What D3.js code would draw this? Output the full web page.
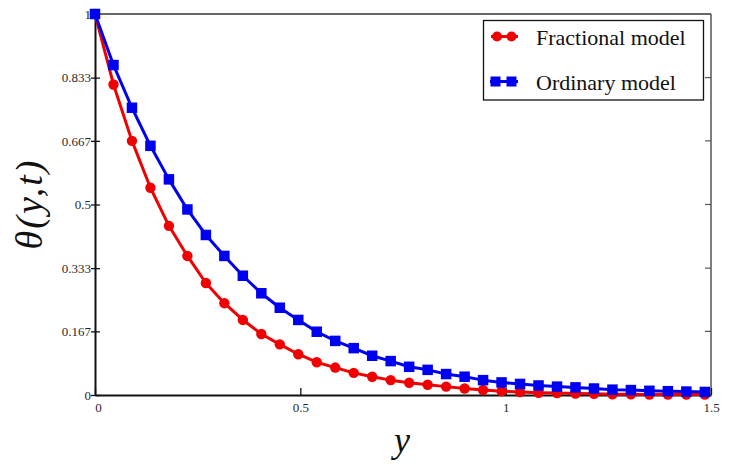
<!DOCTYPE html>
<html>
<head>
<meta charset="utf-8">
<script src="https://cdn.jsdelivr.net/npm/d3@7"></script>
<style>
  html, body { margin: 0; padding: 0; background: #fff; }
  svg { display: block; }
</style>
</head>
<body>
<svg id="chart" width="729" height="470"></svg>
<script>
// ---- data ----
const xStep = 0.045;
const fractional = [1, 0.815, 0.667, 0.544, 0.444, 0.365, 0.294, 0.241, 0.197, 0.160,
  0.133, 0.107, 0.086, 0.072, 0.058, 0.048, 0.039, 0.032, 0.027, 0.022,
  0.017, 0.013, 0.010, 0.008, 0.006, 0.005, 0.004, 0.003, 0.002, 0.002,
  0.001, 0.001, 0.001, 0.001];
const ordinary = [1, 0.866, 0.754, 0.654, 0.566, 0.487, 0.420, 0.365, 0.313, 0.267,
  0.229, 0.197, 0.166, 0.142, 0.123, 0.103, 0.089, 0.074, 0.066, 0.055,
  0.048, 0.039, 0.033, 0.029, 0.025, 0.022, 0.020, 0.017, 0.014, 0.013,
  0.011, 0.010, 0.009, 0.008];
const xTicks = [0, 0.5, 1, 1.5];
const xTickLabels = ["0", "0.5", "1", "1.5"];
const yTicks = [0, 0.167, 0.333, 0.5, 0.667, 0.833, 1];
const yTickLabels = ["0", "0.167", "0.333", "0.5", "0.667", "0.833", "1"];
const seriesNames = ["Fractional model", "Ordinary model"];

// ---- layout ----
const svg = d3.select("#chart");
const L = 95, R = 711, T = 14, B = 395;
const x = d3.scaleLinear().domain([0, 1.5]).range([L, R]);
const y = d3.scaleLinear().domain([0, 1]).range([B, T]);
const serif = "'Liberation Serif', 'DejaVu Serif', serif";
const tickColor = "#2a2a2a";

// plot frame (top/right)
svg.append("line").attr("x1", L).attr("x2", R).attr("y1", T).attr("y2", T)
  .attr("stroke", "#333").attr("stroke-width", 1.5);
svg.append("line").attr("x1", R).attr("x2", R).attr("y1", T).attr("y2", B)
  .attr("stroke", "#555").attr("stroke-width", 1.5);

// right inward ticks
svg.append("g").selectAll("line").data(yTicks.slice(1, -1)).join("line")
  .attr("x1", R - 6).attr("x2", R).attr("y1", d => y(d)).attr("y2", d => y(d))
  .attr("stroke", "#555").attr("stroke-width", 1.2);

// left axis
const yAxis = d3.axisLeft(y).tickValues(yTicks)
  .tickFormat((d, i) => yTickLabels[i]).tickSizeInner(-5).tickSizeOuter(0).tickPadding(4);
const gy = svg.append("g").attr("transform", `translate(${L},0)`).call(yAxis);
gy.select(".domain").attr("stroke", "#111").attr("stroke-width", 2);
gy.selectAll(".tick line").attr("x1", -4).attr("x2", 5).attr("stroke", "#111").attr("stroke-width", 1.3);
gy.selectAll(".tick text").attr("x", -4).attr("font-family", serif).attr("font-size", 13)
  .attr("fill", tickColor);

// bottom axis
const xAxis = d3.axisBottom(x).tickValues(xTicks)
  .tickFormat((d, i) => xTickLabels[i]).tickSizeInner(-7).tickSizeOuter(0).tickPadding(10);
const gx = svg.append("g").attr("transform", `translate(0,${B})`).call(xAxis);
gx.select(".domain").attr("stroke", "#111").attr("stroke-width", 2);
gx.selectAll(".tick line").attr("stroke", "#111").attr("stroke-width", 1.3);
gx.selectAll(".tick text").attr("font-family", serif).attr("font-size", 13)
  .attr("fill", tickColor).attr("dy", "0.5em");
gx.selectAll(".tick").filter(d => d === 0).select("text").attr("dx", 3);

// ---- series ----
const line = d3.line().x((d, i) => x(i * xStep)).y(d => y(d));
const red = "#f00000", blue = "#0000f0";

const gRed = svg.append("g");
gRed.append("path").datum(fractional).attr("d", line).attr("fill", "none")
  .attr("stroke", red).attr("stroke-width", 3).attr("stroke-linejoin", "round");
gRed.selectAll("circle").data(fractional).join("circle")
  .attr("cx", (d, i) => x(i * xStep)).attr("cy", d => y(d)).attr("r", 5.2).attr("fill", red);

const gBlue = svg.append("g");
gBlue.append("path").datum(ordinary).attr("d", line).attr("fill", "none")
  .attr("stroke", blue).attr("stroke-width", 3).attr("stroke-linejoin", "round");
const sq = 10.5;
gBlue.selectAll("rect").data(ordinary).join("rect")
  .attr("x", (d, i) => x(i * xStep) - sq / 2).attr("y", d => y(d) - sq / 2)
  .attr("width", sq).attr("height", sq).attr("fill", blue);

// ---- legend ----
const lg = svg.append("g");
lg.append("rect").attr("x", 483.5).attr("y", 20.5).attr("width", 220).attr("height", 79.5)
  .attr("fill", "#fff").attr("stroke", "#111").attr("stroke-width", 1.3);
// red entry
lg.append("line").attr("x1", 491).attr("x2", 518).attr("y1", 36.5).attr("y2", 36.5)
  .attr("stroke", red).attr("stroke-width", 3);
[497, 511.5].forEach(cx => lg.append("circle").attr("cx", cx).attr("cy", 36.5).attr("r", 5).attr("fill", red));
// blue entry
lg.append("line").attr("x1", 490).attr("x2", 518).attr("y1", 81.5).attr("y2", 81.5)
  .attr("stroke", blue).attr("stroke-width", 3);
[495.5, 511.5].forEach(cx => lg.append("rect").attr("x", cx - 5).attr("y", 76.5)
  .attr("width", 10).attr("height", 10).attr("fill", blue));
lg.append("text").attr("x", 536).attr("y", 45).text(seriesNames[0])
  .attr("font-family", serif).attr("font-size", 22).attr("fill", "#111");
lg.append("text").attr("x", 536).attr("y", 90).text(seriesNames[1])
  .attr("font-family", serif).attr("font-size", 22).attr("fill", "#111");

// ---- axis titles ----
svg.append("text").attr("transform", "translate(42,204) rotate(-90)")
  .attr("text-anchor", "middle").attr("font-family", serif).attr("font-style", "italic")
  .attr("font-size", 38).attr("letter-spacing", 2).attr("fill", "#111").text("θ(y,t)");
svg.append("text").attr("x", 402).attr("y", 452).attr("text-anchor", "middle")
  .attr("font-family", serif).attr("font-style", "italic").attr("font-size", 36)
  .attr("fill", "#111").text("y");
</script>
</body>
</html>
